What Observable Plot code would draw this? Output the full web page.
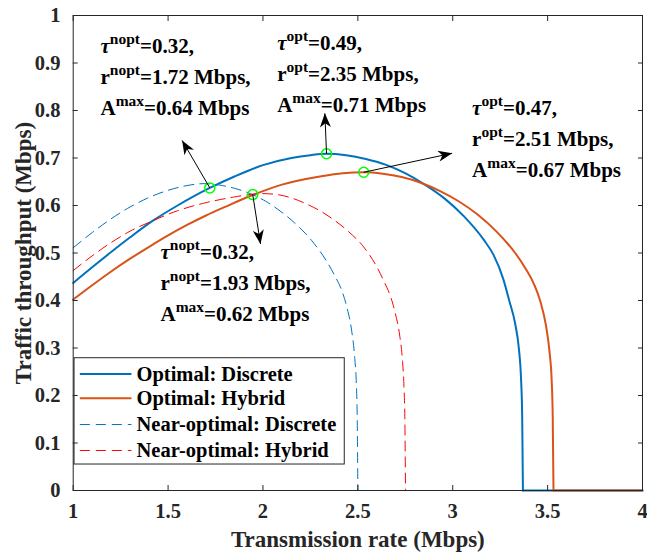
<!DOCTYPE html>
<html><head><meta charset="utf-8">
<script src="https://cdn.jsdelivr.net/npm/d3@7"></script>
<script src="https://cdn.jsdelivr.net/npm/@observablehq/plot@0.6"></script>
<style>body{margin:0;background:#fff}</style>
</head><body><div id="chart"></div>
<script>
// ---- data ----
const xTicks = [1, 1.5, 2, 2.5, 3, 3.5, 4];
const xTickLabels = ["1", "1.5", "2", "2.5", "3", "3.5", "4"];
const yTicks = [0, 0.1, 0.2, 0.3, 0.4, 0.5, 0.6, 0.7, 0.8, 0.9, 1];
const yTickLabels = ["0", "0.1", "0.2", "0.3", "0.4", "0.5", "0.6", "0.7", "0.8", "0.9", "1"];

const optDiscreteX = [1.0,1.1,1.2,1.3,1.42,1.55,1.72,1.85,2.0,2.15,2.25,2.335,2.4385,2.542,2.6455,2.749,2.8525,2.956,3.0595,3.163,3.215,3.2665,3.2976,3.3286,3.3493,3.3597,3.3659,3.370];
const optDiscreteY = [0.437,0.470,0.502,0.533,0.568,0.600,0.637,0.661,0.685,0.700,0.706,0.709,0.706,0.698,0.686,0.668,0.644,0.615,0.577,0.528,0.496,0.445,0.400,0.352,0.296,0.238,0.158,0.0];

const optHybridX = [1.0,1.1,1.2,1.3,1.4,1.5,1.6,1.7,1.8,1.946,2.1,2.3,2.42,2.531,2.631,2.731,2.831,2.931,3.031,3.131,3.231,3.331,3.381,3.431,3.461,3.491,3.511,3.521,3.527,3.531];
const optHybridY = [0.402,0.432,0.461,0.488,0.513,0.537,0.559,0.579,0.597,0.622,0.644,0.661,0.668,0.670,0.667,0.660,0.648,0.631,0.609,0.581,0.545,0.499,0.469,0.432,0.399,0.348,0.288,0.235,0.154,0.0];

const nearDiscreteX = [1.0,1.1,1.2,1.3,1.4,1.5,1.6,1.69,1.771,1.852,1.933,2.014,2.095,2.176,2.257,2.338,2.3785,2.419,2.4433,2.4676,2.4838,2.4919,2.4968,2.50];
const nearDiscreteY = [0.511,0.543,0.572,0.597,0.617,0.632,0.642,0.646,0.643,0.636,0.625,0.609,0.587,0.560,0.526,0.481,0.452,0.417,0.384,0.336,0.278,0.226,0.149,0.0];

const nearHybridX = [1.0,1.1,1.2,1.3,1.42,1.55,1.7,1.85,1.95,2.0,2.075,2.15,2.225,2.30,2.376,2.451,2.526,2.601,2.638,2.676,2.698,2.721,2.736,2.743,2.748,2.751];
const nearHybridY = [0.463,0.494,0.522,0.546,0.568,0.589,0.606,0.618,0.624,0.625,0.623,0.616,0.604,0.589,0.569,0.545,0.515,0.470,0.440,0.404,0.372,0.325,0.269,0.219,0.144,0.0];

const seriesNames = ["Optimal: Discrete", "Optimal: Hybrid", "Near-optimal: Discrete", "Near-optimal: Hybrid"];

// highlighted points (green circles) and arrow tips
const markX = [1.72, 1.946, 2.335, 2.531];
const markY = [0.637, 0.623, 0.709, 0.670];
const tipX = [1.574, 1.987, 2.326, 2.997];
const tipY = [0.737, 0.519, 0.794, 0.710];

// annotation texts
const annLines = [
  ["τ^nopt=0.32,", "r^nopt=1.72 Mbps,", "A^max=0.64 Mbps"],
  ["τ^opt=0.49,", "r^opt=2.35 Mbps,", "A^max=0.71 Mbps"],
  ["τ^opt=0.47,", "r^opt=2.51 Mbps,", "A^max=0.67 Mbps"],
  ["τ^nopt=0.32,", "r^nopt=1.93 Mbps,", "A^max=0.62 Mbps"]
];
const annX = [1.144, 2.075, 3.102, 1.46];
const annY = [0.7895, 0.7968, 0.661, 0.3558];

// ---- layout / styles ----
const W = 647, H = 554, ML = 72.7, MR = 5, MT = 15, MB = 64;
const styles = [
  {stroke: "#0072BD", strokeWidth: 2, dash: null},
  {stroke: "#D95319", strokeWidth: 2, dash: null},
  {stroke: "#0072BD", strokeWidth: 1, dash: "10,6"},
  {stroke: "#FF0000", strokeWidth: 1, dash: "10,6"}
];
const seriesXY = [[optDiscreteX, optDiscreteY], [optHybridX, optHybridY], [nearDiscreteX, nearDiscreteY], [nearHybridX, nearHybridY]];
const xMax = 4;

const lineMarks = [];
seriesXY.forEach(([xs, ys], i) => {
  const pts = xs.map((x, j) => ({x, y: ys[j]}));
  const tail = [{x: xs[xs.length - 1], y: ys[ys.length - 1]}, {x: xMax, y: 0}];
  const s = styles[i];
  const opts = {x: "x", y: "y", stroke: s.stroke, strokeWidth: s.strokeWidth};
  if (s.dash) opts.strokeDasharray = s.dash;
  lineMarks.push(Plot.line(pts, {...opts, curve: "monotone-x"}));
  lineMarks.push(Plot.line(tail, {...opts, curve: "linear"}));
});

// arrow geometry in screen space (for rotating arrowheads)
const sx = Plot.scale({x: {domain: [1, 4], range: [ML, W - MR]}});
const sy = Plot.scale({y: {domain: [0, 1], range: [H - MB, MT]}});
const arrows = markX.map((mx, i) => {
  const dx = sx.apply(tipX[i]) - sx.apply(mx);
  const dy = sy.apply(tipY[i]) - sy.apply(markY[i]);
  return {mx, my: markY[i], tx: tipX[i], ty: tipY[i], angle: Math.atan2(dx, -dy) * 180 / Math.PI};
});
const arrowHead = {draw(ctx) { ctx.moveTo(0, 0); ctx.lineTo(5.5, 14); ctx.lineTo(0, 10); ctx.lineTo(-5.5, 14); ctx.closePath(); }};

const anns = annLines.map((lines, i) => ({x: annX[i], y: annY[i], text: lines.join("\n")}));

// legend
const legendRowY = [0.2453, 0.1943, 0.1389, 0.0842];
const legendMarks = [
  Plot.rect([0], {x1: 1.007, x2: 2.431, y1: 0.0547, y2: 0.2785, fill: "white", stroke: "#262626", strokeWidth: 1})
];
seriesNames.forEach((name, i) => {
  const s = styles[i];
  const o = {x1: 1.035, x2: 1.307, y1: "y", y2: "y", stroke: s.stroke, strokeWidth: s.strokeWidth};
  if (s.dash) o.strokeDasharray = s.dash;
  legendMarks.push(Plot.link([{y: legendRowY[i]}], o));
});
legendMarks.push(Plot.text(seriesNames.map((name, i) => ({name, y: legendRowY[i]})), {
  x: 1.3335, y: "y", text: "name", textAnchor: "start", fontSize: 20.5, fill: "black"
}));

const chart = Plot.plot({
  width: W, height: H, marginLeft: ML, marginRight: MR, marginTop: MT, marginBottom: MB,
  x: {domain: [1, 4], label: null},
  y: {domain: [0, 1], label: null},
  style: {fontFamily: "'Liberation Serif', 'Times New Roman', serif", fontWeight: "bold", background: "white", color: "#262626", overflow: "visible"},
  marks: [
    ...lineMarks,
    Plot.dot(markX.map((x, i) => ({x, y: markY[i]})), {x: "x", y: "y", r: 5, stroke: "#00FF00", strokeWidth: 1.5, fill: "none"}),
    Plot.link(arrows, {x1: "mx", y1: "my", x2: "tx", y2: "ty", stroke: "black", strokeWidth: 1}),
    Plot.dot(arrows, {x: "tx", y: "ty", symbol: arrowHead, rotate: "angle", fill: "black", stroke: "none", r: 5}),
    Plot.text(anns, {x: "x", y: "y", text: "text", textAnchor: "start", lineAnchor: "bottom", lineHeight: 31 / 21, fontSize: 21, fill: "black"}),
    ...legendMarks,
    Plot.frame({stroke: "#262626", strokeWidth: 1}),
    Plot.axisX(xTicks, {anchor: "bottom", tickSize: -5, tickPadding: 17.5, tickFormat: d => xTickLabels[xTicks.indexOf(d)], fontSize: 20.5, label: null}),
    Plot.axisX(xTicks, {anchor: "top", tickSize: -5, tickFormat: () => "", label: null}),
    Plot.axisY(yTicks, {anchor: "left", tickSize: -5, tickPadding: 17.7, tickFormat: d => yTickLabels[yTicks.indexOf(d)], fontSize: 20.5, label: null}),
    Plot.axisY(yTicks, {anchor: "right", tickSize: -5, tickFormat: () => "", label: null}),
    Plot.text(["Transmission rate (Mbps)"], {frameAnchor: "bottom", textAnchor: "middle", dy: 56, lineAnchor: "bottom", text: d => d, fontSize: 23}),
    Plot.text(["Traffic throughput (Mbps)"], {frameAnchor: "left", textAnchor: "middle", dx: -50, rotate: -90, lineAnchor: "middle", text: d => d, fontSize: 23})
  ]
});

// superscripts (e.g. "τ^nopt" -> τ with raised "nopt")
const NS = "http://www.w3.org/2000/svg";
chart.querySelectorAll("text, tspan").forEach(el => {
  if (el.children.length) return;
  const m = el.textContent.match(/^(.*?)\^(\w+)(.*)$/);
  if (!m) return;
  el.textContent = "";
  const base = document.createElementNS(NS, "tspan");
  base.textContent = m[1];
  if (m[1] === "τ") base.setAttribute("font-style", "italic");
  el.appendChild(base);
  const sup = document.createElementNS(NS, "tspan");
  sup.setAttribute("dy", "-9");
  sup.setAttribute("font-size", "15.5");
  sup.textContent = m[2];
  el.appendChild(sup);
  const rest = document.createElementNS(NS, "tspan");
  rest.setAttribute("dy", "9");
  rest.textContent = m[3];
  el.appendChild(rest);
});

document.getElementById("chart").appendChild(chart);
</script>
</body></html>
